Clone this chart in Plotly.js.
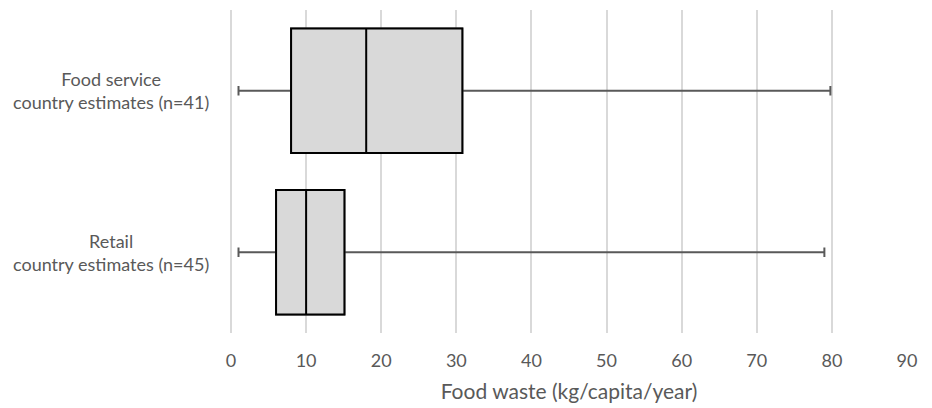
<!DOCTYPE html>
<html>
<head>
<meta charset="utf-8">
<script src="https://cdn.plot.ly/plotly-3.0.1.min.js"></script>
<style>html,body{margin:0;padding:0;background:#fff;}#chart{width:932px;height:408px;}</style>
</head>
<body>
<div id="chart"></div>
<script>
const categories = ['Food service<br>country estimates (n=41)', 'Retail<br>country estimates (n=45)'];
const minValues = [1, 1];
const q1Values = [8, 6];
const medianValues = [18, 10];
const q3Values = [30.8, 15.1];
const maxValues = [79.8, 79];
const xTicks = [0, 10, 20, 30, 40, 50, 60, 70, 80, 90];

const whiskers = {
  type: 'box', orientation: 'h',
  y: categories, q1: q1Values, median: medianValues, q3: q3Values,
  lowerfence: minValues, upperfence: maxValues,
  width: 0.77, whiskerwidth: 0.075,
  fillcolor: '#d9d9d9', line: {color: '#595959', width: 2},
  boxpoints: false, showlegend: false, hoverinfo: 'skip'
};
const boxes = {
  type: 'box', orientation: 'h',
  y: categories, q1: q1Values, median: medianValues, q3: q3Values,
  lowerfence: q1Values, upperfence: q3Values,
  width: 0.77, whiskerwidth: 0,
  fillcolor: '#d9d9d9', line: {color: '#000000', width: 2},
  boxpoints: false, showlegend: false, hoverinfo: 'skip'
};

const labelAnnotations = categories.map(c => ({
  text: c, xref: 'paper', yref: 'y', x: (111 - 231) / 676, y: c,
  xanchor: 'center', yanchor: 'middle', align: 'center', yshift: 0,
  showarrow: false, font: {family: 'Lato, sans-serif', size: 18, color: '#595959'}
}));

const layout = {
  width: 932, height: 408,
  margin: {l: 231, r: 25, t: 10, b: 75},
  paper_bgcolor: '#ffffff', plot_bgcolor: '#ffffff',
  font: {family: 'Lato, sans-serif', color: '#595959', size: 18},
  boxmode: 'overlay',
  showlegend: false,
  annotations: labelAnnotations,
  xaxis: {
    range: [0, 90], tickvals: xTicks, ticktext: xTicks.map(String),
    showgrid: true, gridcolor: '#d9d9d9', gridwidth: 2,
    zeroline: true, zerolinecolor: '#d9d9d9', zerolinewidth: 2,
    showline: false, ticks: 'outside', ticklen: 11, tickcolor: 'rgba(0,0,0,0)',
    tickfont: {size: 18, color: '#595959'},
    title: {text: 'Food waste (kg/capita/year)', font: {size: 21, color: '#595959'}, standoff: 14}
  },
  yaxis: {
    type: 'category', categoryorder: 'array', categoryarray: categories.slice().reverse(),
    range: [-0.5, 1.5], showgrid: false, zeroline: false, showline: false,
    showticklabels: false
  }
};

Plotly.newPlot('chart', [whiskers, boxes], layout, {displayModeBar: false, staticPlot: true});
</script>
</body>
</html>
